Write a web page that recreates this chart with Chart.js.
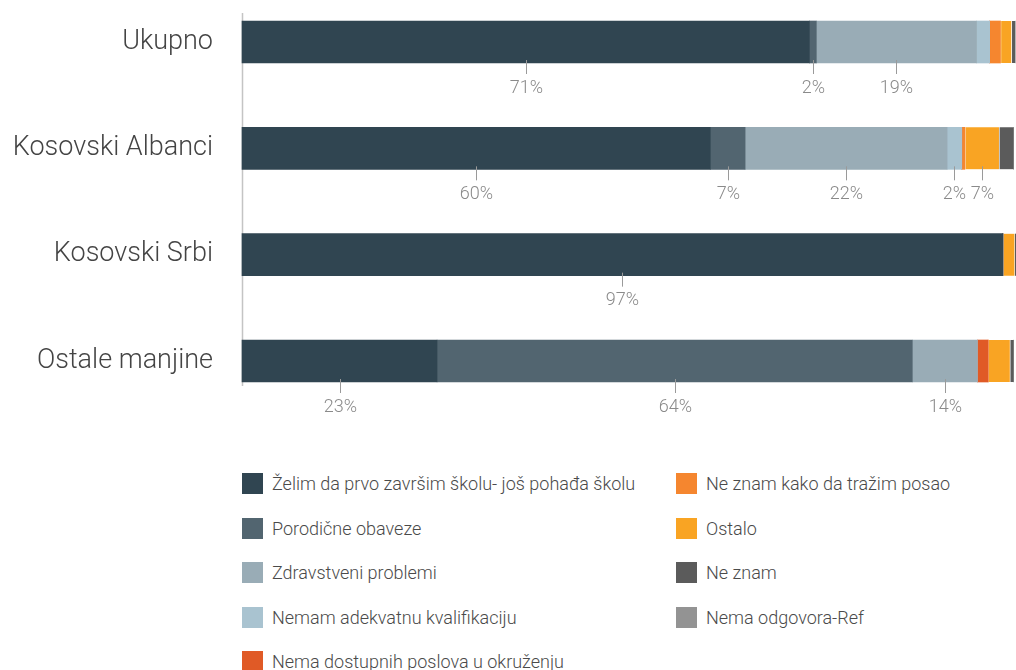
<!DOCTYPE html>
<html>
<head>
<meta charset="utf-8">
<script src="https://cdn.jsdelivr.net/npm/chart.js@4.4.0/dist/chart.umd.min.js"></script>
<style>
  html, body { margin: 0; padding: 0; background: #fff; }
  body { width: 1016px; height: 670px; position: relative; overflow: hidden; font-family: Roboto, "Open Sans", sans-serif; }
  #wrap { position: absolute; left: 0; top: 0; width: 1016px; height: 420px; }
  #legend { position: absolute; left: 242px; top: 473px; display: grid; grid-auto-flow: column;
            grid-template-rows: repeat(5, 44.5px); grid-template-columns: 434px 300px; }
  .item { display: flex; align-items: flex-start; height: 44.5px; }
  .box { width: 21px; height: 21px; flex: none; }
  .txt { margin-left: 9px; font-size: 18px; font-weight: 300; color: #4a4a4a; line-height: 21px; white-space: nowrap; }
</style>
</head>
<body>
<div id="wrap"><canvas id="c" width="1016" height="420"></canvas></div>
<div id="legend"></div>
<script>
// Categories
const categories = ['Ukupno', 'Kosovski Albanci', 'Kosovski Srbi', 'Ostale manjine'];

// Series names
const seriesNames = [
  'Želim da prvo završim školu- još pohađa školu',
  'Porodične obaveze',
  'Zdravstveni problemi',
  'Nemam adekvatnu kvalifikaciju',
  'Nema dostupnih poslova u okruženju',
  'Ne znam kako da tražim posao',
  'Ostalo',
  'Ne znam',
  'Nema odgovora-Ref'
];

// Series values (segment widths as drawn, percent)
const zelimSkolu      = [73.3, 60.5, 98.3, 25.2];
const porodicne       = [0.9, 4.5, 0, 61.4];
const zdravstveni     = [20.7, 26.1, 0, 8.4];
const nemamKvalif     = [1.7, 1.9, 0, 0];
const nemaPoslova     = [0, 0, 0, 1.4];
const neZnamKako      = [1.4, 0.4, 0, 0];
const ostalo          = [1.4, 4.4, 1.5, 2.8];
const neZnam          = [0.5, 1.9, 0.2, 0.5];
const nemaOdgovora    = [0, 0, 0, 0];

// Printed percentage labels (null = not shown)
const lblZelim       = ['71%', '60%', '97%', '23%'];
const lblPorodicne   = ['2%', '7%', null, '64%'];
const lblZdravstveni = ['19%', '22%', null, '14%'];
const lblNemamKvalif = [null, '2%', null, null];
const lblOstalo      = [null, '7%', null, null];

const colors = ['#304551', '#526570', '#99acb6', '#a9c3d0', '#e05a26', '#f5862f', '#f9a423', '#5b5b5b', '#939393'];

const seriesValues = [zelimSkolu, porodicne, zdravstveni, nemamKvalif, nemaPoslova, neZnamKako, ostalo, neZnam, nemaOdgovora];
const seriesLabels = [lblZelim, lblPorodicne, lblZdravstveni, lblNemamKvalif, null, null, lblOstalo, null, null];

const datasets = seriesValues.map((vals, i) => {
  const sep = (i === 6 || i === 7);
  return {
    label: seriesNames[i],
    data: vals,
    backgroundColor: colors[i],
    borderColor: '#ffffff',
    borderWidth: sep ? { top: 0, right: 0, bottom: 0, left: 1 } : 0,
    borderSkipped: false,
    barThickness: 42,
    clip: false,
    valueLabels: seriesLabels[i]
  };
});

const axisLinePlugin = {
  id: 'axisLine',
  beforeDatasetsDraw(chart) {
    const { ctx, chartArea } = chart;
    ctx.save();
    ctx.strokeStyle = '#c4c4c4';
    ctx.lineWidth = 1.5;
    ctx.beginPath();
    ctx.moveTo(chartArea.left + 0.5, chartArea.top - 29);
    ctx.lineTo(chartArea.left + 0.5, chartArea.bottom + 25);
    ctx.stroke();
    ctx.restore();
  }
};

const valueLabelPlugin = {
  id: 'valueLabels',
  afterDatasetsDraw(chart) {
    const { ctx } = chart;
    ctx.save();
    ctx.font = '300 18px Roboto, "Open Sans", sans-serif';
    ctx.fillStyle = '#8a8a8a';
    ctx.strokeStyle = '#9a9a9a';
    ctx.lineWidth = 1;
    ctx.textAlign = 'center';
    ctx.textBaseline = 'middle';
    chart.data.datasets.forEach((ds, i) => {
      if (!ds.valueLabels) return;
      const meta = chart.getDatasetMeta(i);
      meta.data.forEach((el, j) => {
        const txt = ds.valueLabels[j];
        if (!txt) return;
        const p = el.getProps(['x', 'y', 'base', 'height'], true);
        const cx = Math.round((p.x + p.base) / 2) + 0.5;
        const bottom = p.y + p.height / 2;
        ctx.beginPath();
        ctx.moveTo(cx, bottom - 3);
        ctx.lineTo(cx, bottom + 11);
        ctx.stroke();
        ctx.fillText(txt, cx, bottom + 25);
      });
    });
    ctx.restore();
  }
};

const chart = new Chart(document.getElementById('c'), {
  type: 'bar',
  data: { labels: categories, datasets },
  options: {
    indexAxis: 'y',
    responsive: false,
    animation: false,
    devicePixelRatio: 1,
    layout: { padding: { top: 42, bottom: 59, left: 0, right: 0 } },
    plugins: { legend: { display: false }, tooltip: { enabled: false } },
    scales: {
      x: { stacked: true, min: 0, max: 100, display: false },
      y: {
        stacked: true,
        offset: false,
        grid: { display: false, drawTicks: false },
        border: { display: false },
        ticks: {
          padding: 29,
          color: '#444444',
          font: { family: 'Roboto, "Open Sans", sans-serif', size: 27, weight: '300' }
        },
        afterFit(scale) {
          scale.width = 242;
          scale.paddingTop = 0;
          scale.paddingBottom = 0;
        }
      }
    }
  },
  plugins: [axisLinePlugin, valueLabelPlugin]
});

// HTML legend in two columns (column-major), built from chart datasets
const legendEl = document.getElementById('legend');
chart.data.datasets.forEach(ds => {
  const item = document.createElement('div');
  item.className = 'item';
  const box = document.createElement('span');
  box.className = 'box';
  box.style.background = ds.backgroundColor;
  const t = document.createElement('span');
  t.className = 'txt';
  t.textContent = ds.label;
  item.appendChild(box);
  item.appendChild(t);
  legendEl.appendChild(item);
});
</script>
</body>
</html>
